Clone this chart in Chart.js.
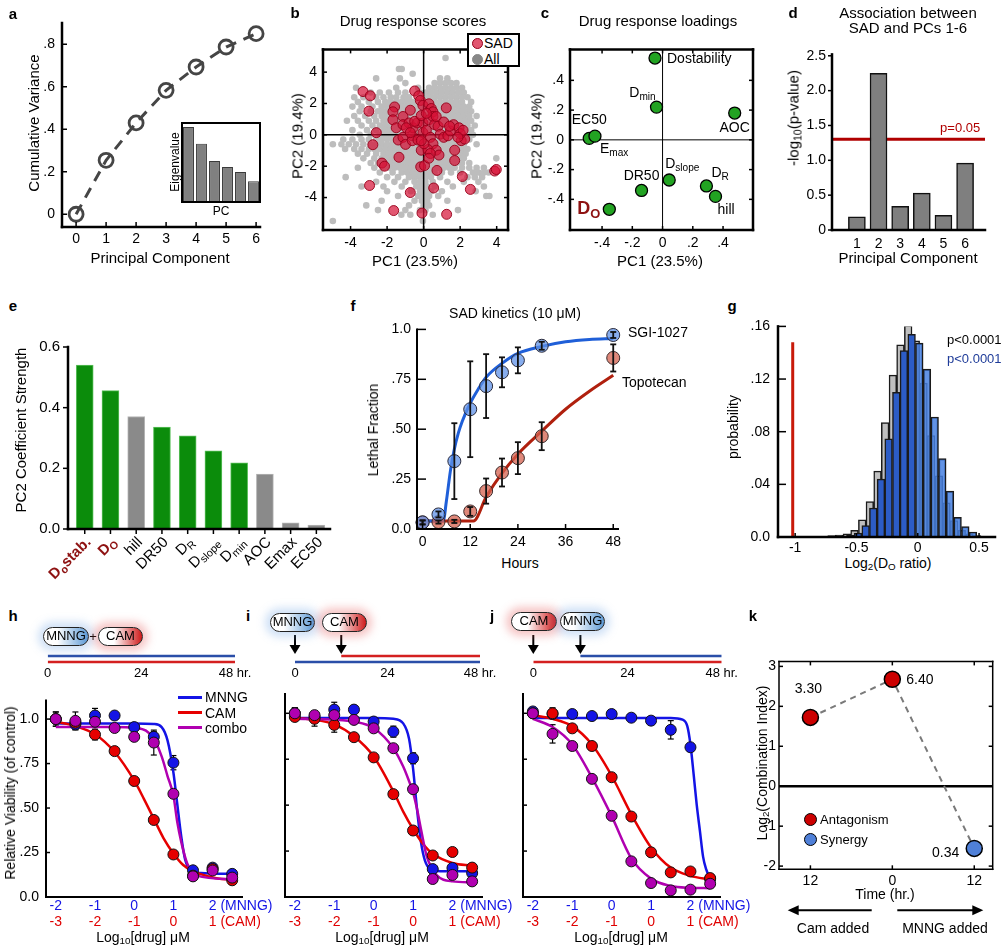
<!DOCTYPE html>
<html>
<head>
<meta charset="utf-8">
<script src="https://cdn.jsdelivr.net/npm/chart.js@4.4.0/dist/chart.umd.min.js"></script>
<style>
  body { margin: 0; background: #fff; }
  #fig { position: relative; width: 1002px; height: 949px; overflow: hidden; font-family: "Liberation Sans", Arial, sans-serif; color: #000; }
  #fig canvas { position: absolute; }
  .t { position: absolute; white-space: nowrap; transform: translate(-50%, -50%); font-size: 15px; line-height: 1; }
  .t sub { font-size: 70%; vertical-align: -0.25em; line-height: 0; }
  .pill { position: absolute; height: 19px; box-sizing: border-box; border: 1.5px solid #222; border-radius: 10px; font-size: 13px; line-height: 16px; text-align: center; }
  .mn { background: linear-gradient(90deg, #fff 30%, #5d9ad6 100%); box-shadow: 0 0 9px 5px rgba(120, 170, 230, 0.35); }
  .cm { background: linear-gradient(90deg, #fff 35%, #cf1a1a 100%); box-shadow: 0 0 9px 5px rgba(230, 90, 90, 0.35); }
</style>
</head>
<body>
<div id="fig"></div>
<script>
// ---- a: cumulative variance + eigenvalue inset
const pcIdx = [0, 1, 2, 3, 4, 5, 6];
const cumVar = [0, 0.254, 0.43, 0.583, 0.693, 0.787, 0.85];
const pcNum = [1, 2, 3, 4, 5, 6];
const eigen = [2.25, 1.75, 1.23, 1.05, 0.9, 0.62];

// ---- b: PC scores, SAD drugs and all drugs
const sadPts = [
  [-3.32, 2.76], [-2.92, 2.49], [-3.0, 1.51], [-2.59, 0.14], [-2.78, -0.63], [-2.28, -1.8], [-2.14, -2.0],
  [-2.96, -3.23], [-1.64, -4.83], [-0.73, -3.68], [-0.09, -4.99], [-0.16, -2.04], [0.05, -1.96], [0.73, -2.27],
  [0.55, -3.39], [1.26, -5.07], [2.12, -2.66], [2.56, -3.48], [3.89, -2.31], [3.98, -2.21], [1.7, -1.64],
  [1.7, -0.98], [2.06, -0.37], [2.25, -0.27], [-0.13, -0.98], [-1.35, -1.43], [-1.39, -0.33], [-1.13, -0.16],
  [-0.62, -0.06], [-1.59, 1.78], [-1.68, 1.47], [-1.13, 1.17], [-0.73, 1.57], [-0.49, 2.8], [-0.27, 2.49],
  [-0.18, 2.19], [-0.04, 1.88], [0.29, 1.98], [0.42, 1.68], [0.51, 1.47], [1.24, 1.72], [-1.68, 0.96],
  [-1.5, 0.45], [-1.13, 0.65], [-0.8, 0.76], [-0.58, 0.45], [-0.35, 0.76], [-0.04, 0.76], [0.29, 0.96],
  [0.51, 1.17], [0.6, 0.65], [0.79, 0.55], [0.91, 0.04], [1.1, -0.16], [1.33, -0.06], [1.46, 0.25],
  [1.64, 0.65], [1.94, 0.45], [2.01, 0.08], [2.16, 0.29], [-0.04, 0.14], [0.15, 0.29], [0.37, -0.16],
  [0.51, -0.57], [0.24, -0.94], [0.69, -0.98], [0.84, -1.29], [0.37, -1.19], [0.29, -1.49], [-0.99, -0.61],
  [-0.62, -0.37], [-0.31, -0.33], [0.02, -0.57], [-0.13, -0.37], [-0.95, 0.45], [-0.73, 0.14], [-0.49, 0.86],
  [-0.13, 1.23], [0.15, 1.37], [0.69, 1.17], [1.1, 0.82], [1.42, 0.55], [1.88, -0.16]
];
// all drugs, one row per PC2 level: [pc2, [pc1 values]]
const allRows = [
  [4.9, [1.2]],
  [4.2, [-1.35, -1.2]],
  [3.9, [-0.6]],
  [3.6, [-2.6, -1.3, 0.9, 1.3]],
  [3.3, [-1.0, 0.6, 0.9, 1.2, 1.5, 1.8]],
  [3.0, [-3.7, -1.5, -0.3, 0.3, 0.6, 0.9, 1.2, 1.5, 1.8, 2.1]],
  [2.7, [-2.9, -2.4, -1.9, -1.4, -1.0, -0.2, 0.1, 0.4, 0.7, 1.0, 1.3, 1.6, 1.9, 2.2]],
  [2.4, [-3.8, -3.3, -2.6, -2.2, -1.8, -1.5, -1.1, -0.8, 0.0, 0.3, 0.6, 0.9, 1.2, 1.5, 1.8, 2.1, 2.4]],
  [2.1, [-3.6, -3.0, -2.5, -2.1, -1.8, -1.5, -1.2, -0.9, -0.6, -0.3, 0.0, 0.3, 0.6, 0.9, 1.2, 1.5, 1.8, 2.1, 2.6]],
  [1.8, [-3.9, -3.4, -2.8, -2.3, -2.0, -1.7, -1.4, -1.1, -0.8, -0.5, -0.2, 0.1, 0.4, 0.7, 1.0, 1.3, 1.6, 1.9, 2.2, 2.5]],
  [1.5, [-3.5, -2.9, -2.5, -2.2, -1.9, -1.6, -1.3, -1.0, -0.7, -0.4, -0.1, 0.2, 0.5, 0.8, 1.1, 1.4, 1.7, 2.0, 2.3, 2.6]],
  [1.2, [-3.8, -3.2, -2.7, -2.3, -2.0, -1.7, -1.4, -1.1, -0.8, -0.5, -0.2, 0.1, 0.4, 0.7, 1.0, 1.3, 1.6, 1.9, 2.2, 2.5, 2.9]],
  [0.9, [-4.2, -3.6, -3.0, -2.6, -2.2, -1.9, -1.6, -1.3, -1.0, -0.7, -0.4, -0.1, 0.2, 0.5, 0.8, 1.1, 1.4, 1.7, 2.0, 2.3, 2.6]],
  [0.6, [-3.4, -2.8, -2.4, -2.1, -1.8, -1.5, -1.2, -0.9, -0.6, -0.3, 0.0, 0.3, 0.6, 0.9, 1.2, 1.5, 1.8, 2.1, 2.4, 2.8]],
  [0.3, [-3.9, -3.1, -2.6, -2.2, -1.9, -1.6, -1.3, -1.0, -0.7, -0.4, -0.1, 0.2, 0.5, 0.8, 1.1, 1.4, 1.7, 2.0, 2.3, 2.6]],
  [0.0, [-3.5, -2.9, -2.4, -2.1, -1.8, -1.5, -1.2, -0.9, -0.6, -0.3, 0.0, 0.3, 0.6, 0.9, 1.2, 1.5, 1.8, 2.1, 2.4, 2.7]],
  [-0.3, [-4.4, -3.9, -3.4, -3.0, -2.6, -2.3, -2.0, -1.7, -1.4, -1.1, -0.8, -0.5, -0.2, 0.1, 0.4, 0.7, 1.0, 1.3, 1.6, 1.9, 2.2, 2.5]],
  [-0.6, [-4.97, -4.5, -4.1, -3.7, -3.3, -2.9, -2.6, -2.3, -2.0, -1.7, -1.4, -1.1, -0.8, -0.5, -0.2, 0.1, 0.4, 0.7, 1.0, 1.3, 1.6, 1.9, 2.2, 2.9]],
  [-0.9, [-4.3, -3.8, -3.4, -3.0, -2.7, -2.4, -2.1, -1.8, -1.5, -1.2, -0.9, -0.6, -0.3, 0.0, 0.3, 0.6, 0.9, 1.2, 1.5, 1.8, 2.1, 2.4]],
  [-1.2, [-3.6, -3.1, -2.6, -2.2, -1.9, -1.6, -1.3, -1.0, -0.7, -0.4, -0.1, 0.2, 0.5, 0.8, 1.1, 1.4, 1.7, 2.0, 2.3]],
  [-1.5, [-3.3, -2.7, -2.3, -2.0, -1.7, -1.4, -1.1, -0.8, -0.5, -0.2, 0.1, 0.4, 0.7, 1.0, 1.3, 1.6, 1.9, 2.2, 3.98]],
  [-1.8, [-2.9, -2.5, -2.1, -1.8, -1.5, -1.2, -0.9, -0.6, -0.3, 0.0, 0.3, 0.6, 0.9, 1.2, 1.5, 1.8, 2.1, 2.5]],
  [-2.1, [-3.6, -2.7, -2.2, -1.9, -1.6, -1.3, -1.0, -0.7, -0.4, -0.1, 0.2, 0.5, 0.8, 1.1, 1.4, 1.7, 2.1, 2.5, 2.9, 3.3]],
  [-2.4, [-2.4, -1.7, -1.2, -0.9, -0.6, -0.3, 0.0, 0.3, 0.6, 1.0, 1.5, 2.0, 2.7, 3.0, 3.3, 3.56]],
  [-2.7, [-4.27, -2.0, -1.4, -0.8, -0.5, -0.2, 0.1, 0.4, 0.9, 2.4, 2.8, 3.2]],
  [-3.0, [-2.6, -1.6, -1.0, -0.5, -0.2, 0.1, 0.5, 1.3, 2.2, 3.0]],
  [-3.3, [-3.4, -2.2, -1.2, -0.4, -0.1, 0.2, 0.6, 1.6, 3.3]],
  [-3.6, [-2.0, -0.7, -0.2, 0.1, 0.4, 1.0, 2.85]],
  [-3.9, [-1.4, -0.3, 0.0, 0.3, 0.8, 3.43, 3.6]],
  [-4.2, [-2.3, -0.5, -0.1, 0.2, 1.3]],
  [-4.5, [-3.14, -0.8, 0.0, 0.3]],
  [-4.8, [-2.5, -1.0, -0.2, 0.1, 1.88]],
  [-5.1, [-1.22, -0.73, 0.5]],
  [-5.5, [-4.97, -0.04]]
];

// ---- c: loadings
const loadNames = ['Dostability', 'D_{min}', 'AOC', 'EC50', 'E_{max}', 'D_{slope}', 'DR50', 'D_{R}', 'hill', 'D_{O}'];
const loadPC1 = [-0.05, -0.04, 0.477, -0.485, -0.447, 0.044, -0.139, 0.29, 0.35, -0.352];
const loadPC2 = [0.55, 0.22, 0.18, 0.01, 0.025, -0.27, -0.34, -0.31, -0.38, -0.467];

// ---- d: association with PCs
const assocP = [0.19, 2.25, 0.34, 0.53, 0.21, 0.96];
const pAlpha = 0.05;

// ---- e: PC2 coefficients
const coefNames = ['D_{o}stab.', 'D_{O}', 'hill', 'DR50', 'D_{R}', 'D_{slope}', 'D_{min}', 'AOC', 'Emax', 'EC50'];
const coefVals = [0.54, 0.456, 0.371, 0.336, 0.307, 0.258, 0.218, 0.181, 0.02, 0.013];
const coefGreen = [1, 1, 0, 1, 1, 1, 1, 0, 0, 0];

// ---- f: SAD kinetics
const hours = [0, 4, 8, 12, 16, 20, 24, 30, 48];
const sgiMean = [0.033, 0.073, 0.34, 0.6, 0.716, 0.785, 0.845, 0.918, 0.972];
const sgiErr = [0.01, 0.015, 0.19, 0.24, 0.16, 0.075, 0.065, 0.02, 0.015];
const topoMean = [0.033, 0.035, 0.038, 0.088, 0.19, 0.283, 0.355, 0.465, 0.857];
const topoErr = [0.01, 0.008, 0.008, 0.022, 0.063, 0.07, 0.08, 0.07, 0.068];
const sgiFitH = [-0.5, 5.2, 6, 7, 8, 9, 10, 12, 14, 16, 20, 24, 30, 36, 42, 48];
const sgiFitV = [0.04, 0.04, 0.14, 0.29, 0.4, 0.48, 0.54, 0.63, 0.7, 0.76, 0.83, 0.88, 0.915, 0.938, 0.95, 0.955];
const topoFitH = [-0.5, 12.8, 16, 20, 24, 30, 36, 42, 48];
const topoFitV = [0.04, 0.04, 0.16, 0.28, 0.375, 0.49, 0.6, 0.69, 0.77];

// ---- g: null distributions of log2(DO ratio)
const greyBinX = [-0.703, -0.641, -0.578, -0.516, -0.453, -0.391, -0.328, -0.266, -0.203, -0.141, -0.078, -0.016, 0.047, 0.109, 0.172, 0.234, 0.297, 0.359, 0.422, 0.484];
const greyBinP = [0.001, 0.0015, 0.0025, 0.005, 0.013, 0.027, 0.05, 0.087, 0.123, 0.146, 0.161, 0.149, 0.117, 0.077, 0.0465, 0.026, 0.0125, 0.005, 0.0025, 0.001];
const blueBinX = [-0.55, -0.488, -0.425, -0.363, -0.3, -0.238, -0.175, -0.113, -0.05, 0.0125, 0.075, 0.138, 0.2, 0.263, 0.325, 0.388, 0.45];
const blueBinP = [0.0012, 0.003, 0.0087, 0.022, 0.044, 0.0745, 0.11, 0.1416, 0.154, 0.1473, 0.1275, 0.0912, 0.0596, 0.0348, 0.0149, 0.008, 0.0038];
const obsRatio = -1.02;
const obsLineTop = 0.148;

// ---- h-j: dose responses (x = log10 MNNG dose; CAM axis is one decade lower)
const doseX = [-2, -1.5, -1, -0.5, 0, 0.5, 1, 1.5, 2, 2.5];
const mnngTicks = [-2, -1, 0, 1, 2];
const mnngLabels = ['-2', '-1', '0', '1', '2'];
const camLabels = ['-3', '-2', '-1', '0', '1'];
const hMNNG = [1.0, 0.97, 1.02, 1.02, 0.955, 0.9, 0.755, 0.15, 0.165, 0.13];
const hCAM = [1.0, 0.98, 0.913, 0.82, 0.652, 0.433, 0.239, 0.12, 0.157, 0.094];
const hCombo = [1.0, 0.99, 0.985, 0.95, 0.9, 0.868, 0.58, 0.116, 0.149, 0.109];
const hErr = [[0.04, 0.03, 0.04, 0.01, 0.02, 0.03, 0.04, 0.02, 0.02, 0.02], [0.02, 0.02, 0.03, 0.01, 0.01, 0.01, 0.01, 0.01, 0.01, 0.01], [0.04, 0.05, 0.02, 0.02, 0.02, 0.07, 0.02, 0.02, 0.02, 0.02]];
const iMNNG = [1.0, 0.98, 1.02, 1.02, 0.955, 0.9, 0.755, 0.152, 0.158, 0.13];
const iCAM = [0.98, 0.97, 0.937, 0.87, 0.76, 0.56, 0.362, 0.226, 0.245, 0.16];
const iCombo = [1.0, 0.99, 0.99, 0.964, 0.918, 0.81, 0.587, 0.098, 0.12, 0.085];
const iErr = [[0.03, 0.03, 0.04, 0.02, 0.02, 0.03, 0.03, 0.02, 0.02, 0.02], [0.02, 0.04, 0.04, 0.02, 0.01, 0.01, 0.01, 0.01, 0.01, 0.01], [0.03, 0.02, 0.02, 0.02, 0.02, 0.02, 0.02, 0.02, 0.02, 0.02]];
const jMNNG = [1.01, 0.996, 0.996, 0.985, 0.996, 0.976, 0.96, 0.91, 0.815, 0.098];
const jCAM = [1.0, 1.0, 0.918, 0.822, 0.652, 0.438, 0.243, 0.134, 0.139, 0.103];
const jCombo = [1.0, 0.888, 0.822, 0.643, 0.442, 0.194, 0.076, 0.036, 0.04, 0.072];
const jErr = [[0.02, 0.02, 0.02, 0.02, 0.02, 0.02, 0.02, 0.05, 0.02, 0.01], [0.02, 0.03, 0.02, 0.02, 0.01, 0.01, 0.01, 0.01, 0.01, 0.01], [0.02, 0.05, 0.02, 0.02, 0.01, 0.01, 0.01, 0.01, 0.01, 0.01]];
// fitted curves: [x values, y values]
const hFit = [
  [[-2, 0, 0.5, 0.7, 0.85, 1.0, 1.1, 1.2, 1.3, 1.45, 1.7, 2.5], [0.975, 0.975, 0.972, 0.955, 0.88, 0.7, 0.52, 0.34, 0.21, 0.15, 0.135, 0.13]],
  [[-2, -1.5, -1, -0.5, 0, 0.25, 0.5, 0.75, 1, 1.25, 1.5, 2, 2.5], [0.985, 0.96, 0.915, 0.815, 0.655, 0.55, 0.44, 0.33, 0.245, 0.18, 0.145, 0.11, 0.095]],
  [[-2, -0.5, 0, 0.3, 0.5, 0.7, 0.85, 1.0, 1.1, 1.2, 1.35, 1.6, 2.5], [0.955, 0.955, 0.95, 0.935, 0.89, 0.79, 0.68, 0.57, 0.42, 0.31, 0.19, 0.12, 0.1]]
];
const iFit = [
  [[-2, 0, 0.5, 0.75, 0.9, 1.0, 1.1, 1.2, 1.3, 1.45, 1.7, 2.5], [0.975, 0.975, 0.97, 0.945, 0.86, 0.7, 0.48, 0.3, 0.2, 0.15, 0.14, 0.14]],
  [[-2, -1.5, -1, -0.5, 0, 0.5, 0.75, 1, 1.25, 1.5, 2, 2.5], [0.975, 0.965, 0.94, 0.875, 0.765, 0.575, 0.465, 0.37, 0.29, 0.235, 0.185, 0.17]],
  [[-2, -1, -0.5, 0, 0.5, 0.75, 0.9, 1.0, 1.1, 1.2, 1.35, 1.6, 2, 2.5], [0.97, 0.965, 0.955, 0.92, 0.81, 0.71, 0.63, 0.57, 0.48, 0.37, 0.22, 0.12, 0.085, 0.08]]
];
const jFit = [
  [[-2, 1.5, 1.8, 1.92, 2.0, 2.08, 2.16, 2.24, 2.32, 2.4, 2.5], [0.975, 0.975, 0.965, 0.93, 0.83, 0.67, 0.5, 0.36, 0.22, 0.15, 0.1]],
  [[-2, -1.5, -1, -0.5, 0, 0.5, 1, 1.5, 2, 2.5], [0.99, 0.97, 0.93, 0.83, 0.66, 0.45, 0.27, 0.16, 0.115, 0.095]],
  [[-2, -1.5, -1, -0.5, 0, 0.5, 1, 1.5, 2, 2.5], [0.97, 0.925, 0.83, 0.65, 0.44, 0.21, 0.1, 0.06, 0.05, 0.048]]
];
// hour each drug is added, [MNNG, CAM]
const addHr = { h: [0, 0], i: [0, 12], j: [12, 0] };
const endHr = 48;

// ---- k: combination index vs schedule
const kTime = [-12, 0, 12];
const kCI = [3.30, 6.40, 0.34];

// ================= helpers =================
const FAM = '"Liberation Sans", Arial, sans-serif';
const fig = document.getElementById('fig');
const EXTRA = new Map();
const X = c => EXTRA.get(c.canvas) || {};
const pts = (xs, ys) => xs.map((x, i) => ({ x, y: ys[i] }));

function seg(ctx, x1, y1, x2, y2) { ctx.beginPath(); ctx.moveTo(x1, y1); ctx.lineTo(x2, y2); ctx.stroke(); }

function rich(ctx, x, y, str, o) {
  const size = o.size || 14, wt = o.bold ? 'bold ' : '';
  const segs = str.split(/(_\{[^}]*\})/).filter(Boolean).map(p =>
    p[0] === '_' ? { t: p.slice(2, -1), s: size * 0.72, sub: true } : { t: p, s: size, sub: false });
  let total = 0;
  segs.forEach(g => { ctx.font = wt + g.s + 'px ' + FAM; g.w = ctx.measureText(g.t).width; total += g.w; });
  let cx = o.align === 'right' ? x - total : o.align === 'center' ? x - total / 2 : x;
  ctx.save();
  ctx.fillStyle = o.color || '#000'; ctx.textAlign = 'left'; ctx.textBaseline = 'middle';
  segs.forEach(g => { ctx.font = wt + g.s + 'px ' + FAM; ctx.fillText(g.t, cx, y + (g.sub ? size * 0.28 : 0)); cx += g.w; });
  ctx.restore();
}

function drawZero(chart, z) {
  const { ctx, chartArea: c, scales: { x, y } } = chart;
  ctx.save(); ctx.strokeStyle = '#000'; ctx.lineWidth = z.w;
  if (z.x) { const px = x.getPixelForValue(0); seg(ctx, px, c.top, px, c.bottom); }
  if (z.y) { const py = y.getPixelForValue(0); seg(ctx, c.left, py, c.right, py); }
  ctx.restore();
}

function drawErr(chart, e) {
  const { ctx, scales: { x, y } } = chart;
  ctx.save(); ctx.strokeStyle = e.color || '#000'; ctx.lineWidth = e.w || 1.2;
  e.sets.forEach(s => s.x.forEach((xv, i) => {
    const px = x.getPixelForValue(xv), p1 = y.getPixelForValue(s.m[i] - s.e[i]), p2 = y.getPixelForValue(s.m[i] + s.e[i]);
    seg(ctx, px, p1, px, p2); seg(ctx, px - e.cap, p1, px + e.cap, p1); seg(ctx, px - e.cap, p2, px + e.cap, p2);
  }));
  ctx.restore();
}

// note: Chart.js paints dataset 0 last (on top), so datasets are listed top-most first
const figPlugin = {
  id: 'figPlugin',
  beforeDatasetsDraw(chart) {
    const o = X(chart);
    if (o.zero && o.zero.after === undefined) drawZero(chart, o.zero);
    if (o.err && !o.err.top) drawErr(chart, o.err);
    if (o.hline) {
      const { ctx, chartArea: c, scales: { y } } = chart;
      const py = y.getPixelForValue(o.hline.y);
      ctx.save(); ctx.strokeStyle = o.hline.color; ctx.lineWidth = o.hline.w; seg(ctx, c.left, py, c.right, py); ctx.restore();
    }
  },
  afterDatasetDraw(chart, args) {
    const o = X(chart);
    if (o.zero && o.zero.after === args.index) drawZero(chart, o.zero);
  },
  afterDatasetsDraw(chart) {
    const o = X(chart);
    const { ctx, chartArea: c, scales: { x, y } } = chart;
    if (o.err && o.err.top) drawErr(chart, o.err);
    const f = o.frame;
    if (f) {
      ctx.save(); ctx.strokeStyle = '#000'; ctx.lineWidth = f.lw; ctx.lineCap = 'square';
      const s = f.sides || 'lb';
      if (s.includes('l')) seg(ctx, c.left, c.top, c.left, c.bottom);
      if (s.includes('b')) seg(ctx, c.left, c.bottom, c.right, c.bottom);
      if (s.includes('t')) seg(ctx, c.left, c.top, c.right, c.top);
      if (s.includes('r')) seg(ctx, c.right, c.top, c.right, c.bottom);
      const dir = f.out ? -1 : 1;
      ctx.lineWidth = f.tw || 1.5; ctx.lineCap = 'butt';
      if (f.tx) x.ticks.forEach(t => {
        const px = x.getPixelForValue(t.value);
        seg(ctx, px, c.bottom, px, c.bottom - dir * f.tx);
        if (s.includes('t')) seg(ctx, px, c.top, px, c.top + dir * f.tx);
      });
      if (f.ty) y.ticks.forEach(t => {
        const py = y.getPixelForValue(t.value);
        seg(ctx, c.left, py, c.left + dir * f.ty, py);
        if (s.includes('r')) seg(ctx, c.right, py, c.right - dir * f.ty, py);
      });
      ctx.restore();
    }
    (o.notes || []).forEach(n => {
      rich(ctx, x.getPixelForValue(n.x) + (n.dx || 0), y.getPixelForValue(n.y) + (n.dy || 0), n.text, n);
    });
  },
  afterDraw(chart) {
    const o = X(chart);
    const { ctx, chartArea: c, scales: { x, y } } = chart;
    if (o.rot) {
      const r = o.rot;
      r.labels.forEach((lab, i) => {
        ctx.save();
        ctx.translate(x.getPixelForValue(i) + r.dx, c.bottom + r.dy);
        ctx.rotate(-r.angle * Math.PI / 180);
        rich(ctx, 0, 0, lab, { size: r.size, color: r.colors[i], bold: r.bold[i], align: 'right' });
        ctx.restore();
      });
    }
    if (o.rows) {
      o.rows.forEach(r => r.labels.forEach((lab, i) => {
        const px = x.getPixelForValue(o.rowsAt[i]);
        ctx.save(); ctx.font = '14px ' + FAM; ctx.fillStyle = r.color; ctx.textBaseline = 'middle'; ctx.textAlign = 'center';
        ctx.fillText(lab, px, c.bottom + r.dy);
        if (i === r.labels.length - 1) { ctx.textAlign = 'left'; ctx.fillText(r.suffix, px + ctx.measureText(lab).width / 2, c.bottom + r.dy); }
        ctx.restore();
      }));
    }
    if (o.arrows) {
      ctx.save(); ctx.strokeStyle = '#000'; ctx.fillStyle = '#000'; ctx.lineWidth = 2;
      o.arrows.forEach(h => {
        const px = x.getPixelForValue(h), tip = c.top + 4;
        seg(ctx, px, c.top - 15, px, tip - 6);
        ctx.beginPath(); ctx.moveTo(px - 5.5, tip - 9); ctx.lineTo(px + 5.5, tip - 9); ctx.lineTo(px, tip); ctx.closePath(); ctx.fill();
      });
      ctx.restore();
    }
    if (o.harrows) {
      ctx.save(); ctx.strokeStyle = '#000'; ctx.fillStyle = '#000'; ctx.lineWidth = 2;
      o.harrows.forEach(a => {
        const y0 = c.bottom + a.dy, x0 = c.left + a.from, x1 = c.left + a.to, d = Math.sign(x1 - x0);
        seg(ctx, x0, y0, x1 - d * 8, y0);
        ctx.beginPath(); ctx.moveTo(x1, y0); ctx.lineTo(x1 - d * 11, y0 - 5); ctx.lineTo(x1 - d * 11, y0 + 5); ctx.closePath(); ctx.fill();
      });
      ctx.restore();
    }
  }
};

Chart.register(figPlugin);
Chart.defaults.font.family = FAM;
Chart.defaults.color = '#000';
Chart.defaults.animation = false;
Chart.defaults.responsive = false;
Chart.defaults.plugins.legend.display = false;
Chart.defaults.plugins.tooltip.enabled = false;

function axis(min, max, vals, labels, o = {}) {
  return {
    type: 'linear', min, max, offset: false,
    afterBuildTicks: s => { s.ticks = vals.map(v => ({ value: v })); },
    ticks: { display: !!labels, autoSkip: false, maxRotation: 0, padding: o.pad ?? 4, font: { size: o.fs || 14 }, color: '#000',
      callback: (v, i) => (labels ? labels[i] : '') },
    grid: { display: false, drawTicks: false, offset: false }, border: { display: false }
  };
}

// place a chart so that its plot area lands on the given page rectangle
function mount(box, plot, cfg, extra) {
  const cv = document.createElement('canvas');
  cv.width = box.w; cv.height = box.h;
  Object.assign(cv.style, { left: box.x + 'px', top: box.y + 'px', width: box.w + 'px', height: box.h + 'px' });
  fig.appendChild(cv);
  EXTRA.set(cv, extra || {});
  const sx = cfg.options.scales.x, sy = cfg.options.scales.y;
  const yw = plot.l - box.x, xh = box.y + box.h - plot.b;
  cfg.options.devicePixelRatio = 1;
  cfg.options.layout = { autoPadding: false, padding: { top: plot.t - box.y, right: box.x + box.w - plot.r, left: sy.display === false ? yw : 0, bottom: sx.display === false ? xh : 0 } };
  if (sy.display !== false) sy.afterFit = s => { s.width = yw; };
  if (sx.display !== false) sx.afterFit = s => { s.height = xh; };
  return new Chart(cv, cfg);
}

function txt(x, y, html, st) {
  const d = document.createElement('div');
  d.className = 't'; d.style.cssText = 'left:' + x + 'px;top:' + y + 'px;' + (st || '');
  d.innerHTML = html; fig.appendChild(d);
}
const V = 'transform:translate(-50%,-50%) rotate(-90deg);';
const LEFT = 'transform:translate(0,-50%);';
function dot(x, y, r, fill, bc) {
  const d = document.createElement('div');
  d.style.cssText = 'position:absolute;box-sizing:border-box;border-radius:50%;left:' + (x - r) + 'px;top:' + (y - r) + 'px;width:' + 2 * r + 'px;height:' + 2 * r + 'px;background:' + fill + ';border:1.5px solid ' + bc;
  fig.appendChild(d);
}
function box(x, y, w, h, st) {
  const d = document.createElement('div');
  d.style.cssText = 'position:absolute;box-sizing:border-box;left:' + x + 'px;top:' + y + 'px;width:' + w + 'px;height:' + h + 'px;' + st;
  fig.appendChild(d);
}
function pill(x, y, w, label, cls) {
  const d = document.createElement('div');
  d.className = 'pill ' + cls; d.style.left = x + 'px'; d.style.top = y + 'px'; d.style.width = w + 'px';
  d.textContent = label; fig.appendChild(d);
}

// ================= a =================
mount({ x: 0, y: 0, w: 275, h: 250 }, { l: 62, t: 23, r: 260, b: 227 }, {
  type: 'line',
  data: { datasets: [{ data: pts(pcIdx, cumVar), borderColor: '#454545', borderWidth: 3, borderDash: [11, 8],
    pointRadius: 7, pointBorderWidth: 2.8, pointBorderColor: '#454545', pointBackgroundColor: 'rgba(0,0,0,0)', clip: false }] },
  options: { scales: {
    x: axis(-0.47, 6.13, pcIdx, pcIdx.map(String), { pad: 4 }),
    y: axis(-0.06, 0.9, [0, 0.2, 0.4, 0.6, 0.8], ['0', '.2', '.4', '.6', '.8'], { pad: 7 }) } }
}, { frame: { lw: 2.5, sides: 'lb', tx: 5, ty: 5 } });

mount({ x: 170, y: 118, w: 95, h: 90 }, { l: 182, t: 123, r: 260, b: 202 }, {
  type: 'bar',
  data: { labels: pcNum.map(String), datasets: [{ data: eigen, backgroundColor: '#808080', borderColor: '#3a3a3a', borderWidth: 1, barPercentage: 0.84, categoryPercentage: 1 }] },
  options: { scales: { x: { display: false }, y: { display: false, min: 0, max: 2.37 } } }
}, { frame: { lw: 2, sides: 'lbtr' } });

// ================= b =================
const allPts = allRows.flatMap(([y, xs]) => xs.map(x => ({ x, y })));
mount({ x: 300, y: 35, w: 215, h: 215 }, { l: 323, t: 42, r: 508, b: 230 }, {
  type: 'scatter',
  data: { datasets: [
    { data: sadPts.map(([x, y]) => ({ x, y })), pointRadius: 5, backgroundColor: 'rgba(214,16,52,0.7)', borderColor: 'rgba(150,0,25,0.9)', borderWidth: 1 },
    { data: allPts, pointRadius: 3.3, backgroundColor: '#bdbdbd', borderWidth: 0 }
  ] },
  options: { scales: {
    x: axis(-5.51, 4.62, [-4, -2, 0, 2, 4], ['-4', '-2', '0', '2', '4'], { pad: 5 }),
    y: axis(-6.07, 5.45, [-4, -2, 0, 2, 4], ['-4', '-2', '0', '2', '4'], { pad: 6 }) } }
}, { frame: { lw: 2.5, sides: 'lbtr', tx: 4, ty: 4 }, zero: { x: true, y: true, w: 1.5, after: 1 } });

// ================= c =================
const loadStyle = [
  { dx: 12, dy: 1, align: 'left' }, { dx: -14, dy: -14, align: 'center' }, { dx: 0, dy: 15, align: 'center' },
  { dx: 0, dy: -18, align: 'center' }, { dx: 5, dy: 13, align: 'left' }, { dx: -4, dy: -16, align: 'left' },
  { dx: 0, dy: -14, align: 'center' }, { dx: 5, dy: -13, align: 'left' }, { dx: 2, dy: 14, align: 'left' },
  { dx: -9, dy: 0, align: 'right', size: 18, bold: true, color: '#8e1212' }
];
mount({ x: 540, y: 35, w: 216, h: 215 }, { l: 570, t: 42, r: 753, b: 230 }, {
  type: 'scatter',
  data: { datasets: [{ data: pts(loadPC1, loadPC2), pointRadius: 6, backgroundColor: '#22a322', borderColor: '#000', borderWidth: 1.3 }] },
  options: { scales: {
    x: axis(-0.612, 0.598, [-0.4, -0.2, 0, 0.2, 0.4], ['-.4', '-.2', '0', '.2', '.4'], { pad: 5 }),
    y: axis(-0.606, 0.608, [-0.4, -0.2, 0, 0.2, 0.4], ['-.4', '-.2', '0', '.2', '.4'], { pad: 6 }) } }
}, { frame: { lw: 2.5, sides: 'lbtr', tx: 4, ty: 4 }, zero: { x: true, y: true, w: 1 },
  notes: loadNames.map((t, i) => Object.assign({ x: loadPC1[i], y: loadPC2[i], text: t, size: 14 }, loadStyle[i])) });

// ================= d =================
const pCut = -Math.log10(pAlpha);
mount({ x: 800, y: 40, w: 200, h: 215 }, { l: 832, t: 52, r: 985, b: 230 }, {
  type: 'bar',
  data: { datasets: [{ data: pts(pcNum, assocP), backgroundColor: '#7f7f7f', borderColor: '#111', borderWidth: 1.5, barThickness: 17 }] },
  options: { scales: {
    x: axis(-0.15, 6.92, pcNum, pcNum.map(String), { pad: 6 }),
    y: axis(0, 2.52, [0, 0.5, 1, 1.5, 2, 2.5], ['0', '0.5', '1.0', '1.5', '2.0', '2.5'], { pad: 6 }) } }
}, { frame: { lw: 2.5, sides: 'lb', ty: 4, out: true }, hline: { y: pCut, color: '#b00000', w: 3 },
  notes: [{ x: 6.7, y: pCut, dy: -11, text: 'p=0.05', align: 'right', color: '#b00000', size: 13 }] });

// ================= e =================
const coefIdx = coefVals.map((v, i) => i);
mount({ x: 20, y: 330, w: 315, h: 260 }, { l: 68, t: 339, r: 330, b: 529 }, {
  type: 'bar',
  data: { datasets: [{ data: pts(coefIdx, coefVals), barThickness: 17, borderWidth: 1,
    backgroundColor: coefGreen.map(g => (g ? '#0b8c0b' : '#8a8a8a')), borderColor: coefGreen.map(g => (g ? '#5cc05c' : '#b5b5b5')) }] },
  options: { scales: {
    x: axis(-0.65, 9.53, coefIdx, null),
    y: axis(0, 0.6, [0, 0.2, 0.4, 0.6], ['0.0', '0.2', '0.4', '0.6'], { pad: 8, fs: 15 }) } }
}, { frame: { lw: 2.5, sides: 'lb', tx: 5, ty: 5, out: true },
  rot: { labels: coefNames, angle: 45, dx: 4, dy: 11, size: 15,
    colors: coefNames.map((n, i) => (i < 2 ? '#8e1212' : '#000')), bold: coefNames.map((n, i) => i < 2) } });

// ================= f =================
mount({ x: 370, y: 315, w: 290, h: 240 }, { l: 417, t: 325, r: 618, b: 529 }, {
  type: 'line',
  data: { datasets: [
    { data: pts(hours, sgiMean), showLine: false, pointRadius: 6.5, pointBackgroundColor: 'rgba(95,145,232,0.75)', pointBorderColor: '#2a2a3a', pointBorderWidth: 1, clip: false },
    { data: pts(hours, topoMean), showLine: false, pointRadius: 6.5, pointBackgroundColor: 'rgba(212,96,78,0.75)', pointBorderColor: '#3a2a2a', pointBorderWidth: 1, clip: false },
    { data: pts(sgiFitH, sgiFitV), borderColor: '#1f5fd8', borderWidth: 3, pointRadius: 0, cubicInterpolationMode: 'monotone', clip: false },
    { data: pts(topoFitH, topoFitV), borderColor: '#b0200e', borderWidth: 3, pointRadius: 0, cubicInterpolationMode: 'monotone', clip: false }
  ] },
  options: { scales: {
    x: axis(-1.4, 49.2, [0, 12, 24, 36, 48], ['0', '12', '24', '36', '48'], { pad: 5 }),
    y: axis(0, 1, [0, 0.25, 0.5, 0.75, 1], ['0.0', '.25', '.50', '.75', '1.0'], { pad: 6 }) } }
}, { frame: { lw: 2, sides: 'lb', tx: 5, ty: 9 },
  err: { top: true, cap: 3, w: 1.8, color: '#111', sets: [{ x: hours, m: sgiMean, e: sgiErr }, { x: hours, m: topoMean, e: topoErr }] } });

// ================= g =================
mount({ x: 740, y: 310, w: 262, h: 245 }, { l: 778, t: 322, r: 995, b: 537 }, {
  type: 'bar',
  data: { datasets: [
    { type: 'line', data: [{ x: obsRatio, y: 0 }, { x: obsRatio, y: obsLineTop }], borderColor: '#c81a0a', borderWidth: 3, pointRadius: 0 },
    { data: pts(blueBinX, blueBinP), borderColor: '#1a1a1a', borderWidth: 1.5, barThickness: 7.64, grouped: false,
      backgroundColor: blueBinX.map(v => (v < 0 ? '#2c5cc6' : 'rgba(70,128,225,0.85)')) },
    { data: pts(greyBinX, greyBinP), backgroundColor: '#bfbfbf', borderColor: '#1a1a1a', borderWidth: 1.5, barThickness: 7.64, grouped: false }
  ] },
  options: { scales: {
    x: axis(-1.14, 0.63, [-1, -0.5, 0, 0.5], ['-1', '-0.5', '0', '0.5'], { pad: 3 }),
    y: axis(0, 0.16, [0, 0.04, 0.08, 0.12, 0.16], ['0.0', '.04', '.08', '.12', '.16'], { pad: 8 }) } }
}, { frame: { lw: 2.5, sides: 'lb', tx: 4, ty: 8 } });

// ================= h, i, j =================
const DCOL = ['#1414e6', '#e60000', '#b000b0'];
function doseChart(bx, pl, means, errs, fits, yLabels) {
  const ds = [];
  // combo on top, then CAM, then MNNG; curves under the markers
  [2, 1, 0].forEach(k => ds.push({ data: pts(doseX, means[k]), showLine: false, pointRadius: 5.5, pointBackgroundColor: DCOL[k], pointBorderColor: '#111', pointBorderWidth: 1, clip: false }));
  [2, 1, 0].forEach(k => ds.push({ data: pts(fits[k][0], fits[k][1]), borderColor: DCOL[k], borderWidth: 2.5, pointRadius: 0, cubicInterpolationMode: 'monotone' }));
  mount(bx, pl, {
    type: 'line', data: { datasets: ds },
    options: { scales: {
      x: axis(-2.25, 2.75, mnngTicks, null),
      y: axis(0, 1.105, [0, 0.25, 0.5, 0.75, 1], yLabels, { pad: 7 }) } }
  }, { frame: { lw: 2, sides: 'lb', ty: 4 },
    err: { cap: 3, w: 1.2, sets: means.map((m, k) => ({ x: doseX, m, e: errs[k] })) },
    rowsAt: mnngTicks,
    rows: [{ labels: mnngLabels, suffix: ' (MNNG)', color: '#1414e6', dy: 9 }, { labels: camLabels, suffix: ' (CAM)', color: '#e00000', dy: 25 }] });
}
const vLab = ['0.0', '.25', '.50', '.75', '1.0'];
doseChart({ x: 0, y: 685, w: 275, h: 250 }, { l: 46, t: 694, r: 242, b: 897 }, [hMNNG, hCAM, hCombo], hErr, hFit, vLab);
doseChart({ x: 260, y: 685, w: 255, h: 250 }, { l: 285, t: 694, r: 482, b: 897 }, [iMNNG, iCAM, iCombo], iErr, iFit, null);
doseChart({ x: 500, y: 685, w: 255, h: 250 }, { l: 523, t: 694, r: 720, b: 897 }, [jMNNG, jCAM, jCombo], jErr, jFit, null);

// schedule timelines (rows: 1 = upper line, 0 = lower line)
function timeline(bx, pl, mnngRow, camRow, add, arrows) {
  mount(bx, pl, {
    type: 'line',
    data: { datasets: [
      { data: [{ x: add[0], y: mnngRow }, { x: endHr, y: mnngRow }], borderColor: '#2a4ea8', borderWidth: 2.5, pointRadius: 0 },
      { data: [{ x: add[1], y: camRow }, { x: endHr, y: camRow }], borderColor: '#d42020', borderWidth: 2.5, pointRadius: 0 }
    ] },
    options: { scales: {
      x: axis(0, endHr, [0, 24, 48], ['0', '24', '48 hr.'], { pad: 1, fs: 13 }),
      y: { type: 'linear', min: -0.5, max: 2, display: false } } }
  }, arrows ? { arrows: add } : {});
}
timeline({ x: 30, y: 645, w: 235, h: 40 }, { l: 47.7, t: 650, r: 235, b: 665 }, 1, 0, addHr.h, false);
timeline({ x: 270, y: 630, w: 235, h: 55 }, { l: 295, t: 650, r: 480, b: 665 }, 0, 1, addHr.i, true);
timeline({ x: 505, y: 630, w: 245, h: 55 }, { l: 533.3, t: 650, r: 721.7, b: 665 }, 1, 0, addHr.j, true);

// ================= k =================
const kLog = kCI.map(v => Math.log2(v));
mount({ x: 740, y: 650, w: 262, h: 290 }, { l: 779, t: 661, r: 992.7, b: 869.3 }, {
  type: 'line',
  data: { datasets: [
    { data: pts(kTime, kLog), showLine: false, pointRadius: 8, pointBorderWidth: 1.5, pointBorderColor: '#000',
      pointBackgroundColor: kCI.map(v => (v > 1 ? '#cc0000' : '#4f80d8')) },
    { data: pts(kTime, kLog), borderColor: '#7a7a7a', borderDash: [6, 5], borderWidth: 2, pointRadius: 0 }
  ] },
  options: { scales: {
    x: axis(-16.6, 14.7, kTime, ['12', '0', '12'], { pad: 3 }),
    y: axis(-2.08, 3.125, [-2, -1, 0, 1, 2, 3], ['-2', '-1', '0', '1', '2', '3'], { pad: 3 }) } }
}, { frame: { lw: 1.5, sides: 'lbtr', tx: 4, ty: 4 }, zero: { y: true, w: 2.5 },
  notes: [
    { x: kTime[0], y: kLog[0], dx: -2, dy: -28, text: kCI[0].toFixed(2), align: 'center' },
    { x: kTime[1], y: kLog[1], dx: 14, dy: 1, text: kCI[1].toFixed(2), align: 'left' },
    { x: kTime[2], y: kLog[2], dx: -15, dy: 5, text: kCI[2].toFixed(2), align: 'right' }
  ],
  harrows: [{ from: 92.7, to: 8.7, dy: 41 }, { from: 118.3, to: 204.3, dy: 41 }] });

// ================= text, legends, pills =================
const B = 'font-weight:bold;font-size:15px;';
[['a', 13, 13], ['b', 295, 12], ['c', 545, 12], ['d', 793, 12], ['e', 13, 305], ['f', 353, 305], ['g', 732, 305],
 ['h', 13, 615], ['i', 248, 615], ['j', 492, 615], ['k', 753, 615]].forEach(([l, x, y]) => txt(x, y, l, B));

txt(33, 123, 'Cumulative Variance', V);
txt(160, 257, 'Principal Component');
txt(175, 162, 'Eigenvalue', V + 'font-size:12px;');
txt(221, 211, 'PC', 'font-size:12px;');

txt(413, 20, 'Drug response scores');
txt(297, 136, 'PC2 (19.4%)', V);
txt(415, 260, 'PC1 (23.5%)');
box(467, 33, 53, 34, 'border:2px solid #000;background:#fff;');
dot(477, 43, 5.5, 'rgba(214,16,52,0.7)', '#96001a');
dot(477, 59, 5.5, '#888', '#888');
txt(484, 43, 'SAD', LEFT + 'font-size:14px;');
txt(484, 59, 'All', LEFT + 'font-size:14px;');

txt(658, 20, 'Drug response loadings');
txt(536, 136, 'PC2 (19.4%)', V);
txt(660, 260, 'PC1 (23.5%)');

txt(908, 12, 'Association between');
txt(908, 27, 'SAD and PCs 1-6');
txt(793, 118, '-log<sub>10</sub>(p-value)', V);
txt(908, 257, 'Principal Component');

txt(20, 430, 'PC2 Coefficient Strength', V);

txt(515, 313, 'SAD kinetics (10 μM)', 'font-size:14px;');
txt(373, 430, 'Lethal Fraction', V + 'font-size:14px;');
txt(520, 563, 'Hours', 'font-size:14px;');
txt(628, 332, 'SGI-1027', LEFT + 'font-size:14px;');
txt(622, 382, 'Topotecan', LEFT + 'font-size:14px;');

txt(733, 427, 'probability', V + 'font-size:14px;');
txt(888, 563, 'Log<sub>2</sub>(D<sub>O</sub> ratio)', 'font-size:14px;');
txt(947, 339, 'p&lt;0.0001', LEFT + 'font-size:13px;');
txt(947, 358, 'p&lt;0.0001', LEFT + 'font-size:13px;color:#1f3c99;');

txt(10, 793, 'Relative Viability (of control)', V + 'font-size:14px;');
txt(143, 937, 'Log<sub>10</sub>[drug] μM', 'font-size:14px;');
txt(382, 937, 'Log<sub>10</sub>[drug] μM', 'font-size:14px;');
txt(621, 937, 'Log<sub>10</sub>[drug] μM', 'font-size:14px;');
[['MNNG', DCOL[0], 697], ['CAM', DCOL[1], 712.5], ['combo', DCOL[2], 727.5]].forEach(([n, c, y]) => {
  box(178, y - 1.5, 24, 3, 'background:' + c + ';');
  txt(205, y, n, LEFT + 'font-size:14px;');
});

pill(43, 627, 46, 'MNNG', 'mn');
txt(93, 636, '+', 'font-size:13px;');
pill(98, 627, 45, 'CAM', 'cm');
pill(270, 613, 45, 'MNNG', 'mn');
pill(322, 613, 45, 'CAM', 'cm');
pill(511, 612, 46, 'CAM', 'cm');
pill(560, 612, 45, 'MNNG', 'mn');

txt(762, 763, 'Log<sub>2</sub>(Combination Index)', V + 'font-size:14px;');
txt(885, 894, 'Time (hr.)', 'font-size:14px;');
txt(833, 928, 'Cam added', 'font-size:14px;');
txt(945, 928, 'MNNG added', 'font-size:14px;');
dot(810, 819, 6.5, '#cc0000', '#000');
dot(810, 839, 6.5, '#4f80d8', '#000');
txt(820, 819, 'Antagonism', LEFT + 'font-size:13px;');
txt(820, 839, 'Synergy', LEFT + 'font-size:13px;');
</script>
</body>
</html>
